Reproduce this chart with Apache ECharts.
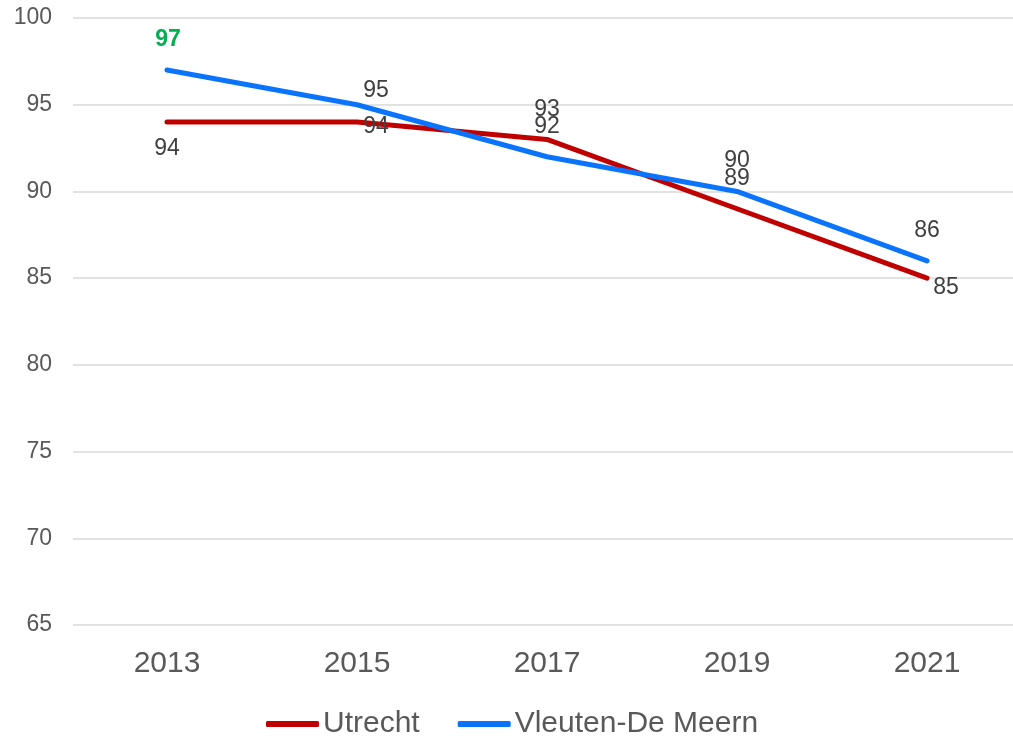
<!DOCTYPE html>
<html>
<head>
<meta charset="utf-8">
<title>Utrecht / Vleuten-De Meern</title>
<script src="https://cdn.jsdelivr.net/npm/echarts@6/dist/echarts.min.js"></script>
<style>
	html, body { margin: 0; padding: 0; background: #fff; }
	#chart { width: 1013px; height: 739px; }
</style>
</head>
<body>
<div id="chart"></div>
<script>
var years = ['2013', '2015', '2017', '2019', '2021'];
var utrecht = [94, 94, 93, 89, 85];
var vleuten = [97, 95, 92, 90, 86];

// label offsets from the point, in px [dx, dy]
var utrechtOffsets = [[0, 27], [19, 5], [0, -30], [0, -30], [19, 10]];
var vleutenOffsets = [[1, -30], [19, -14], [0, -30], [0, -31], [0, -30]];

var FONT = '"Liberation Sans", Arial, sans-serif';
var RED = '#C00000';
var BLUE = '#0A74FF';

function buildData(values, offsets, highlight) {
	return values.map(function(v, i){
		var label = { offset: offsets[i] };
		if (highlight && highlight[i]) {
			label.color = '#00B050';
			label.fontWeight = 'bold';
		}
		return { value: v, label: label };
	});
}

function lineSeries(name, color, data) {
	return {
		name: name,
		type: 'line',
		xAxisIndex: 1,
		yAxisIndex: 1,
		data: data,
		symbol: 'circle',
		symbolSize: 1,
		showSymbol: true,
		itemStyle: { color: 'rgba(0,0,0,0)' },
		lineStyle: { color: color, width: 5, cap: 'round', join: 'round' },
		label: {
			show: true,
			position: 'inside',
			fontFamily: FONT,
			fontSize: 23,
			color: '#404040'
		},
		emphasis: { disabled: true },
		animation: false
	};
}

var chart = echarts.init(document.getElementById('chart'));

chart.setOption({
	backgroundColor: '#fff',
	// grid 0: gridlines + y labels over the full width; grid 1: data points at category centres
	grid: [
		{ left: 73, right: 0, top: 18, bottom: 114 },
		{ left: 167, right: 86, top: 18, bottom: 114 }
	],
	legend: {
		top: 709,
		left: 266,
		padding: 0,
		icon: 'roundRect',
		itemWidth: 53,
		itemHeight: 6,
		itemGap: 38,
		textStyle: { fontFamily: FONT, fontSize: 30, color: '#595959', padding: [0, 0, 0, -1] },
		data: [
			{ name: 'Utrecht', itemStyle: { color: RED } },
			{ name: 'Vleuten-De Meern', itemStyle: { color: BLUE } }
		]
	},
	xAxis: [
		{
			gridIndex: 0,
			type: 'value',
			min: 0,
			max: 1,
			show: false
		},
		{
			gridIndex: 1,
			type: 'category',
			data: years,
			boundaryGap: false,
			axisLine: { show: false },
			axisTick: { show: false },
			splitLine: { show: false },
			axisLabel: { fontFamily: FONT, fontSize: 30, color: '#595959', margin: 24 }
		}
	],
	yAxis: [
		{
			gridIndex: 0,
			type: 'value',
			min: 65,
			max: 100,
			interval: 5,
			axisLine: { show: false },
			axisTick: { show: false },
			axisLabel: { fontFamily: FONT, fontSize: 23, color: '#595959', margin: 21 },
			splitLine: { lineStyle: { color: '#D9D9D9', width: 1.5 } }
		},
		{
			gridIndex: 1,
			type: 'value',
			min: 65,
			max: 100,
			interval: 5,
			show: false
		}
	],
	series: [
		lineSeries('Utrecht', RED, buildData(utrecht, utrechtOffsets)),
		lineSeries('Vleuten-De Meern', BLUE, buildData(vleuten, vleutenOffsets, [true]))
	]
});
</script>
</body>
</html>
